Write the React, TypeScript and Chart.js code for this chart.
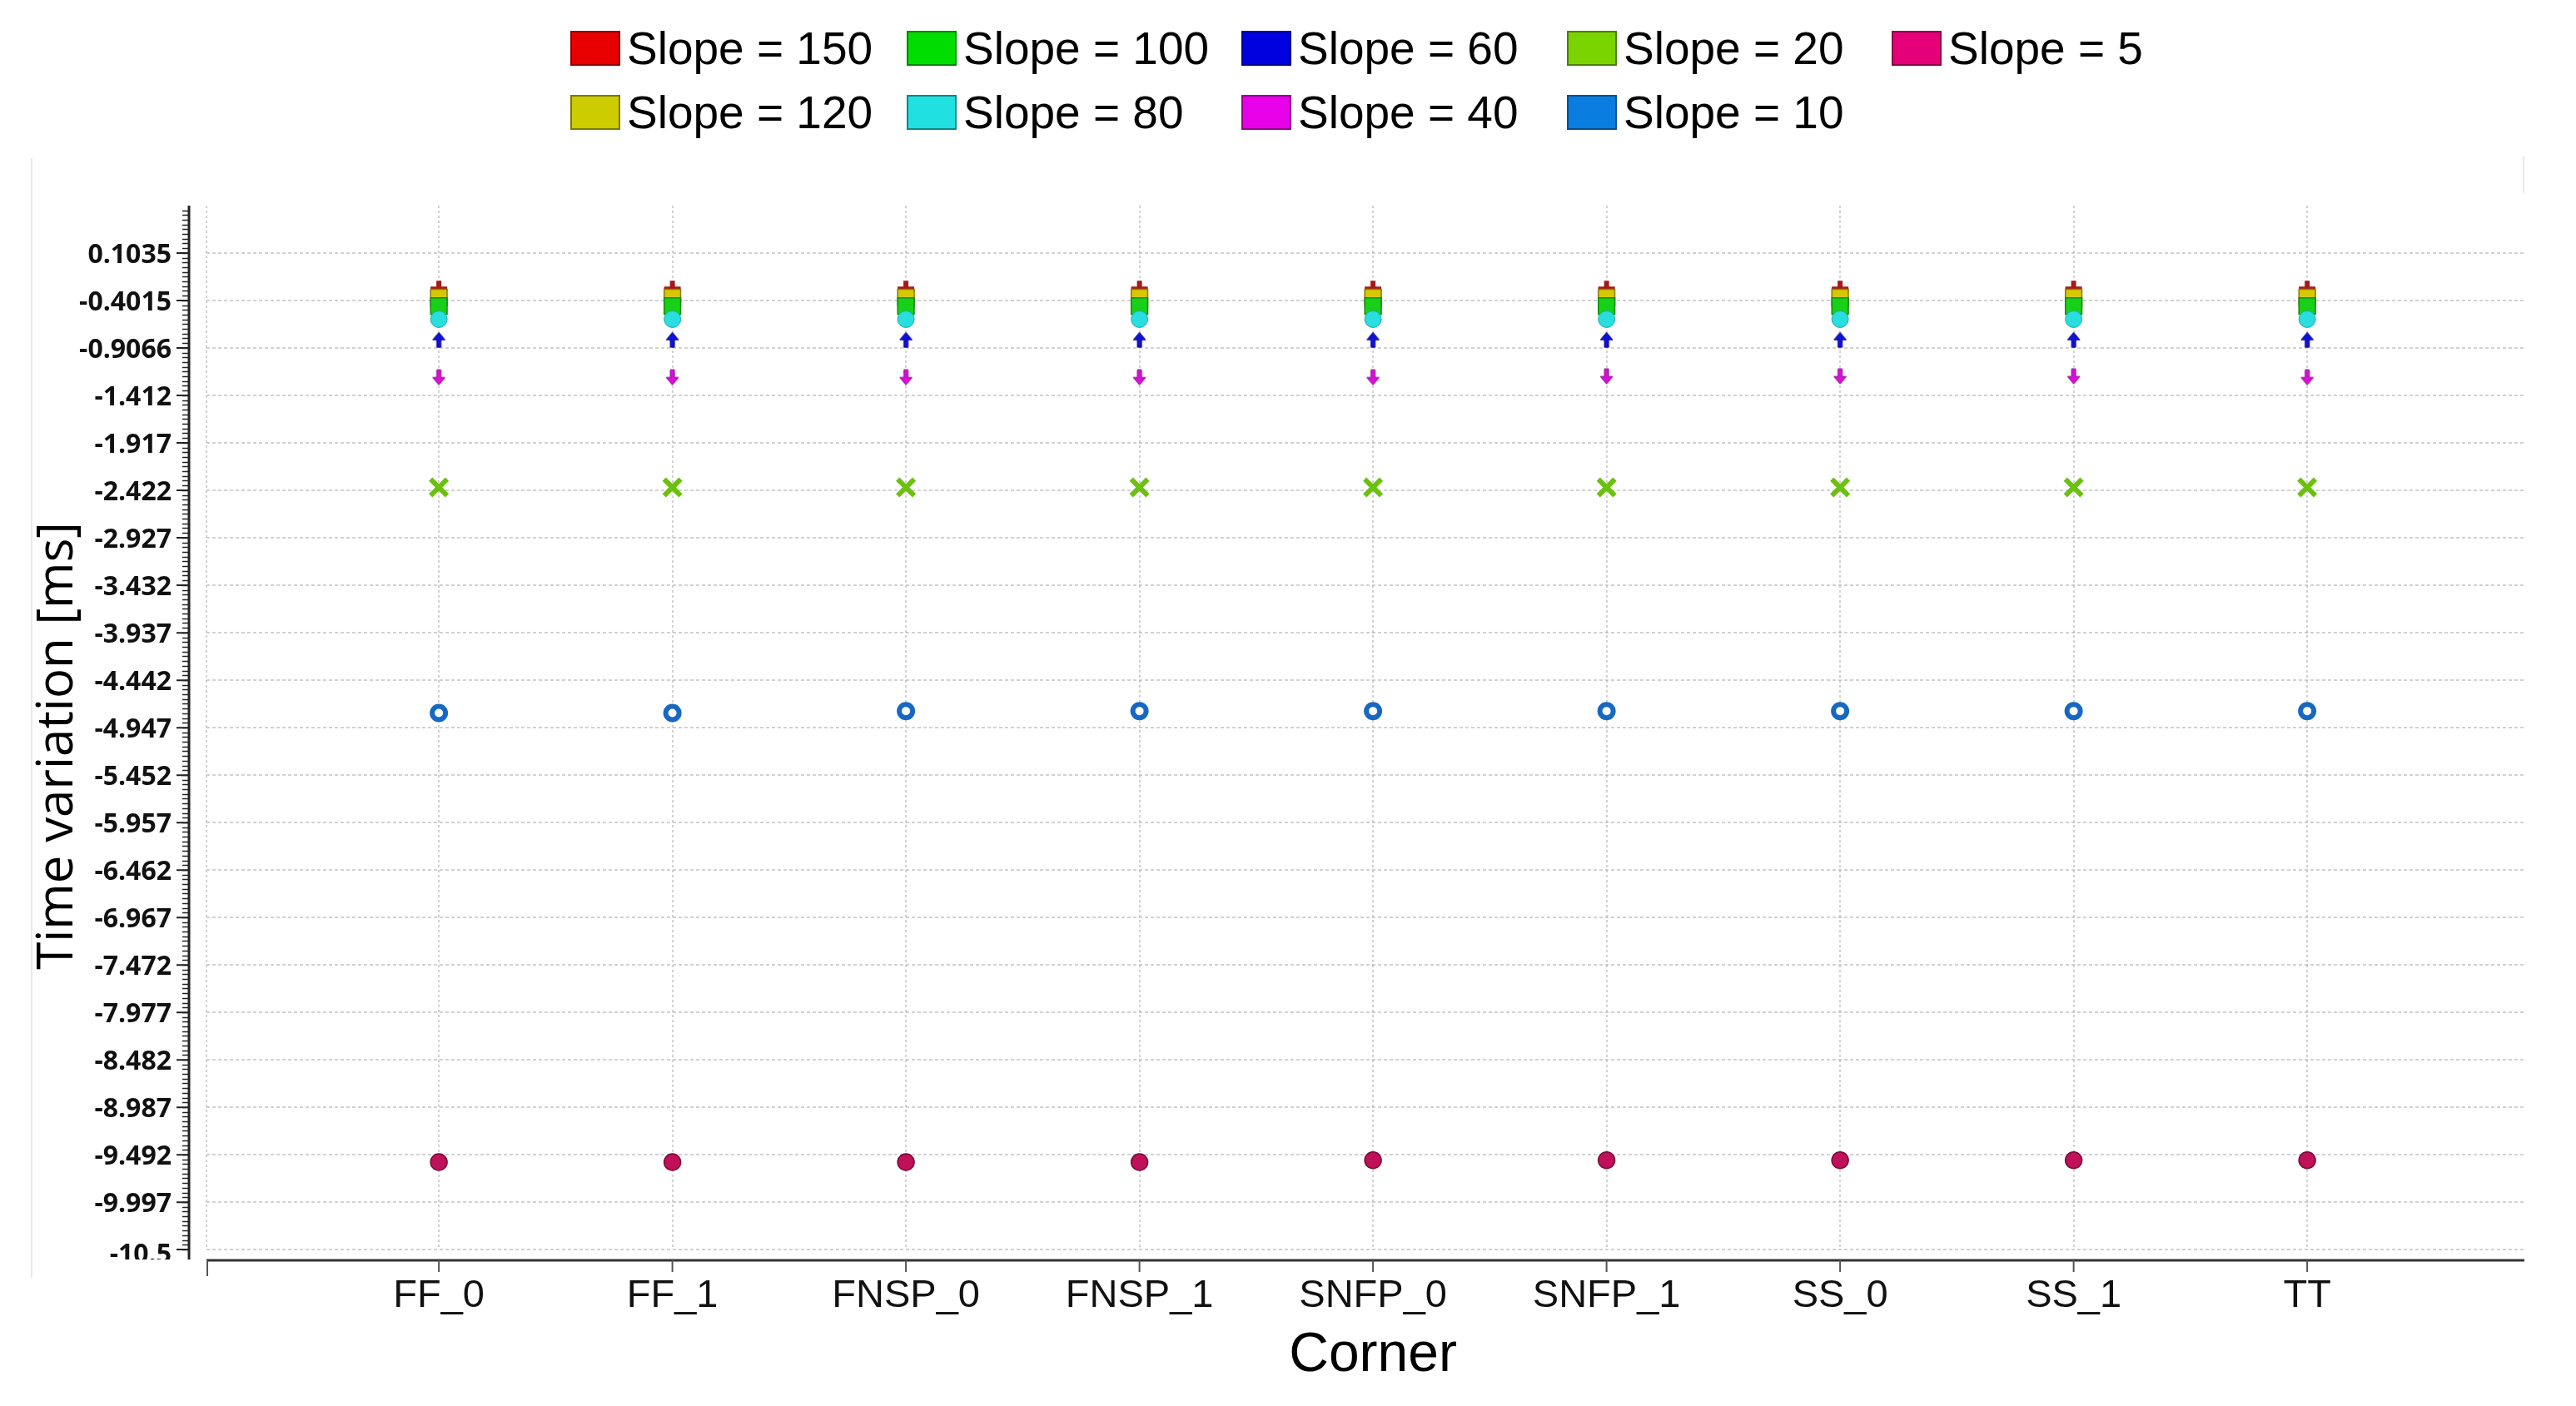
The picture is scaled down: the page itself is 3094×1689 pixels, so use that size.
import React, { useEffect, useRef } from "react";
import { Chart, registerables } from "chart.js";
Chart.register(...registerables);

const categories = ["FF_0", "FF_1", "FNSP_0", "FNSP_1", "SNFP_0", "SNFP_1", "SS_0", "SS_1", "TT"];
const slope150 = [-0.28, -0.28, -0.28, -0.28, -0.28, -0.28, -0.28, -0.28, -0.28];
const slope120 = [-0.37, -0.37, -0.37, -0.37, -0.37, -0.37, -0.37, -0.37, -0.37];
const slope100 = [-0.46, -0.46, -0.46, -0.46, -0.46, -0.46, -0.46, -0.46, -0.46];
const slope80 = [-0.6, -0.6, -0.6, -0.6, -0.6, -0.6, -0.6, -0.6, -0.6];
const slope60 = [-0.82, -0.82, -0.82, -0.82, -0.82, -0.82, -0.82, -0.82, -0.82];
const slope40 = [-1.22, -1.22, -1.22, -1.22, -1.22, -1.21, -1.21, -1.21, -1.22];
const slope20 = [-2.39, -2.39, -2.39, -2.39, -2.39, -2.39, -2.39, -2.39, -2.39];
const slope10 = [-4.79, -4.79, -4.77, -4.77, -4.77, -4.77, -4.77, -4.77, -4.77];
const slope5 = [-9.57, -9.57, -9.57, -9.57, -9.55, -9.55, -9.55, -9.55, -9.55];
const yTickLabels = ["0.1035", "-0.4015", "-0.9066", "-1.412", "-1.917", "-2.422", "-2.927", "-3.432", "-3.937", "-4.442", "-4.947", "-5.452", "-5.957", "-6.462", "-6.967", "-7.472", "-7.977", "-8.482", "-8.987", "-9.492", "-9.997", "-10.5"];
const yMin = -10.5;
const yMax = 0.6085;
const xTitle = "Corner";
const yTitle = "Time variation [ms]";

function makeArrow(color: string, stroke: string, up: boolean) {
  const c = document.createElement("canvas");
  c.width = 17;
  c.height = 20;
  const g = c.getContext("2d")!;
  g.save();
  if (!up) {
    g.translate(0, 20);
    g.scale(1, -1);
  }
  g.beginPath();
  g.moveTo(1, 10);
  g.lineTo(8.5, 1);
  g.lineTo(16, 10);
  g.lineTo(11, 10);
  g.lineTo(11, 19);
  g.lineTo(6, 19);
  g.lineTo(6, 10);
  g.closePath();
  g.fillStyle = color;
  g.fill();
  g.lineWidth = 1;
  g.strokeStyle = stroke;
  g.stroke();
  g.restore();
  return c;
}

export default function App() {
  const ref = useRef<HTMLCanvasElement>(null);
  useEffect(() => {
    document.body.style.margin = "0";
    document.body.style.overflow = "hidden";
    const series = [
      { label: "Slope = 5", values: slope5, legend: "#e5007a", legendBorder: "#8a0045" },
      { label: "Slope = 10", values: slope10, legend: "#0a7de0", legendBorder: "#064f8f" },
      { label: "Slope = 20", values: slope20, legend: "#7ad400", legendBorder: "#4a8000" },
      { label: "Slope = 40", values: slope40, legend: "#e800e8", legendBorder: "#900090" },
      { label: "Slope = 60", values: slope60, legend: "#0000e0", legendBorder: "#000090" },
      { label: "Slope = 80", values: slope80, legend: "#20e0e0", legendBorder: "#108888" },
      { label: "Slope = 100", values: slope100, legend: "#00dd00", legendBorder: "#008800" },
      { label: "Slope = 120", values: slope120, legend: "#cccc00", legendBorder: "#7a7a00" },
      { label: "Slope = 150", values: slope150, legend: "#e80000", legendBorder: "#900000" },
    ];
    const styles: any[] = [
      { pointStyle: "circle", pointRadius: 10, backgroundColor: "#c0105a", borderColor: "#7a0a38", borderWidth: 1.5 },
      { pointStyle: "circle", pointRadius: 8, backgroundColor: "#ffffff", borderColor: "#1668c2", borderWidth: 6 },
      { pointStyle: "crossRot", pointRadius: 14, backgroundColor: "#6cc010", borderColor: "#6cc010", borderWidth: 6 },
      { pointStyle: makeArrow("#d810d8", "#900090", false), pointRadius: 10, backgroundColor: "#d810d8", borderColor: "#d810d8", borderWidth: 1 },
      { pointStyle: makeArrow("#1010d8", "#000090", true), pointRadius: 10, backgroundColor: "#1010d8", borderColor: "#1010d8", borderWidth: 1 },
      { pointStyle: "circle", pointRadius: 10, backgroundColor: "#28dede", borderColor: "#20a8a8", borderWidth: 1 },
      { pointStyle: "rect", pointRadius: 14, backgroundColor: "#18d018", borderColor: "#0e8e0e", borderWidth: 1.5 },
      { pointStyle: "rect", pointRadius: 14, backgroundColor: "#d6c800", borderColor: "#8a7a00", borderWidth: 1.5 },
      { pointStyle: "cross", pointRadius: 10, backgroundColor: "#a81818", borderColor: "#a81818", borderWidth: 6 },
    ];
    const datasets = series.map((s, i) => ({
      label: s.label,
      data: s.values.map((v, j) => ({ x: j, y: v })),
      showLine: false,
      ...styles[i],
      pointHoverRadius: styles[i].pointRadius,
    }));

    const legendOrder = ["Slope = 150", "Slope = 120", "Slope = 100", "Slope = 80", "Slope = 60", "Slope = 40", "Slope = 20", "Slope = 10", "Slope = 5"];
    const colX = [685, 1089, 1491, 1882, 2272];

    const deco = {
      id: "deco",
      afterDraw(chart: any) {
        const ctx = chart.ctx;
        const xs = chart.scales.x;
        const ys = chart.scales.y;
        ctx.save();
        // faint outer frame
        ctx.strokeStyle = "#e8e8e8";
        ctx.lineWidth = 2;
        ctx.beginPath();
        ctx.moveTo(38, 190);
        ctx.lineTo(38, 1535);
        ctx.moveTo(3031, 188);
        ctx.lineTo(3031, 232);
        ctx.stroke();

        // legend
        legendOrder.forEach((lab, k) => {
          const s = series.find((q) => q.label === lab)!;
          const col = Math.floor(k / 2);
          const row = k % 2;
          const x = colX[col];
          const y = row === 0 ? 37 : 114;
          ctx.fillStyle = s.legend;
          ctx.fillRect(x, y, 60, 42);
          ctx.strokeStyle = s.legendBorder;
          ctx.lineWidth = 2;
          ctx.strokeRect(x + 1, y + 1, 58, 40);
          ctx.fillStyle = "#000";
          ctx.font = "55px 'Liberation Sans', Arial, sans-serif";
          ctx.textAlign = "left";
          ctx.textBaseline = "alphabetic";
          ctx.fillText(lab, x + 68, y + 40);
        });

        // y axis line
        const axX = 227;
        ctx.strokeStyle = "#222";
        ctx.lineWidth = 3;
        ctx.beginPath();
        ctx.moveTo(axX, ys.getPixelForValue(yMax));
        ctx.lineTo(axX, 1513);
        ctx.stroke();
        // minor ticks
        const major = parseFloat(yTickLabels[0]) - parseFloat(yTickLabels[1]);
        const minor = major / 10;
        ctx.lineWidth = 1.5;
        ctx.beginPath();
        for (let v = yMin; v <= yMax + 1e-6; v += minor) {
          const py = Math.round(ys.getPixelForValue(v)) + 0.5;
          ctx.moveTo(axX - 8, py);
          ctx.lineTo(axX, py);
        }
        ctx.stroke();
        // major ticks + labels
        ctx.lineWidth = 2;
        ctx.beginPath();
        yTickLabels.forEach((t) => {
          const py = ys.getPixelForValue(parseFloat(t));
          ctx.moveTo(axX - 15, py);
          ctx.lineTo(axX, py);
        });
        ctx.stroke();
        ctx.save();
        ctx.beginPath();
        ctx.rect(0, 0, 226, 1513);
        ctx.clip();
        ctx.fillStyle = "#111";
        ctx.font = "bold 32px 'Open Sans', 'Noto Sans', sans-serif";
        ctx.textAlign = "right";
        ctx.textBaseline = "middle";
        yTickLabels.forEach((t, i) => {
          const py = ys.getPixelForValue(parseFloat(t));
          ctx.fillText(t, 206, py + (i === yTickLabels.length - 1 ? 7 : 3));
        });
        ctx.restore();

        // x axis line
        const axY = 1514;
        ctx.strokeStyle = "#333";
        ctx.lineWidth = 3;
        ctx.beginPath();
        ctx.moveTo(xs.left, axY);
        ctx.lineTo(xs.right, axY);
        ctx.stroke();
        ctx.strokeStyle = "#555";
        ctx.lineWidth = 2;
        ctx.beginPath();
        ctx.moveTo(xs.left + 1, axY);
        ctx.lineTo(xs.left + 1, axY + 19);
        categories.forEach((_, i) => {
          const px = xs.getPixelForValue(i);
          ctx.moveTo(px, axY);
          ctx.lineTo(px, axY + 14);
        });
        ctx.stroke();
        ctx.fillStyle = "#111";
        ctx.font = "47px 'Liberation Sans', Arial, sans-serif";
        ctx.textAlign = "center";
        ctx.textBaseline = "alphabetic";
        categories.forEach((c, i) => {
          ctx.fillText(c, xs.getPixelForValue(i), 1570);
        });
        // x title
        const midX = (xs.getPixelForValue(0) + xs.getPixelForValue(categories.length - 1)) / 2;
        ctx.font = "66px 'Liberation Sans', Arial, sans-serif";
        ctx.fillStyle = "#000";
        ctx.fillText(xTitle, midX, 1647);
        // y title
        ctx.save();
        ctx.translate(87, 896);
        ctx.rotate(-Math.PI / 2);
        ctx.font = "60px 'Open Sans', 'Noto Sans', sans-serif";
        ctx.textAlign = "center";
        ctx.textBaseline = "alphabetic";
        ctx.fillText(yTitle, 0, 0);
        ctx.restore();
        ctx.restore();
      },
    };

    const gridColor = "rgba(165,165,165,0.5)";
    const chart = new Chart(ref.current!, {
      type: "scatter",
      data: { datasets },
      options: {
        animation: false,
        responsive: false,
        events: [],
        layout: { padding: { left: 248, right: 62, top: 247, bottom: 188 } },
        plugins: { legend: { display: false }, tooltip: { enabled: false } },
        scales: {
          x: {
            type: "linear",
            min: -0.995,
            max: 8.93,
            afterBuildTicks: (s: any) => {
              s.ticks = [{ value: -0.995 }].concat(categories.map((_, i) => ({ value: i })));
            },
            afterFit: (s: any) => {
              s.height = 0;
            },
            ticks: { display: false },
            grid: { color: gridColor, lineWidth: 2, drawTicks: false },
            border: { display: false, dash: [3, 3] },
          },
          y: {
            type: "linear",
            min: yMin,
            max: yMax,
            afterBuildTicks: (s: any) => {
              s.ticks = yTickLabels.map((t) => ({ value: parseFloat(t) }));
            },
            afterFit: (s: any) => {
              s.width = 0;
            },
            ticks: { display: false },
            grid: { color: gridColor, lineWidth: 2, drawTicks: false },
            border: { display: false, dash: [4, 3] },
          },
        },
      },
      plugins: [deco],
    } as any);
    return () => chart.destroy();
  }, []);
  return (
    <div style={{ width: 3094, height: 1689, background: "#fff" }}>
      <canvas ref={ref} width={3094} height={1689} style={{ width: 3094, height: 1689, display: "block" }} />
    </div>
  );
}
